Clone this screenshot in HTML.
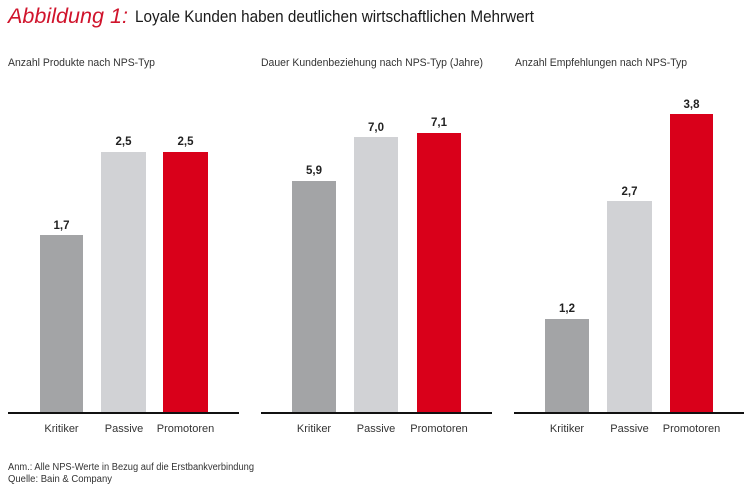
<!DOCTYPE html>
<html>
<head>
<meta charset="utf-8">
<style>
html,body{margin:0;padding:0;background:#fff;}
svg{display:block;}
text{font-family:"Liberation Sans",sans-serif;}
</style>
</head>
<body>
<svg width="750" height="489" viewBox="0 0 750 489" xmlns="http://www.w3.org/2000/svg">
<rect width="750" height="489" fill="#fff"/>
<!-- Title -->
<text x="8" y="23" font-family="Liberation Serif, serif" font-style="italic" font-size="21" fill="#d0142c" textLength="120" lengthAdjust="spacingAndGlyphs">Abbildung 1:</text>
<text x="135" y="22" font-size="16.5" fill="#1a1a1a" textLength="399" lengthAdjust="spacingAndGlyphs">Loyale Kunden haben deutlichen wirtschaftlichen Mehrwert</text>

<!-- Subtitles -->
<text x="8" y="66" font-size="11" fill="#333" textLength="147" lengthAdjust="spacingAndGlyphs">Anzahl Produkte nach NPS-Typ</text>
<text x="261" y="66" font-size="11" fill="#333" textLength="222" lengthAdjust="spacingAndGlyphs">Dauer Kundenbeziehung nach NPS-Typ (Jahre)</text>
<text x="515" y="66" font-size="11" fill="#333" textLength="172" lengthAdjust="spacingAndGlyphs">Anzahl Empfehlungen nach NPS-Typ</text>

<!-- Panel 1 -->
<rect x="40" y="235" width="43" height="178" fill="#a3a4a6"/>
<rect x="101" y="152" width="45" height="261" fill="#d1d2d5"/>
<rect x="163" y="152" width="45" height="261" fill="#d9001a"/>
<rect x="8" y="412" width="231" height="2" fill="#111"/>
<g font-size="11.5" font-weight="bold" fill="#222" text-anchor="middle">
<text x="61.5" y="229">1,7</text>
<text x="123.5" y="145">2,5</text>
<text x="185.5" y="145">2,5</text>
</g>
<g font-size="11" fill="#333" text-anchor="middle">
<text x="61.5" y="432">Kritiker</text>
<text x="124" y="432">Passive</text>
<text x="185.5" y="432">Promotoren</text>
</g>

<!-- Panel 2 -->
<rect x="292" y="181" width="44" height="232" fill="#a3a4a6"/>
<rect x="354" y="137" width="44" height="276" fill="#d1d2d5"/>
<rect x="417" y="133" width="44" height="280" fill="#d9001a"/>
<rect x="261" y="412" width="231" height="2" fill="#111"/>
<g font-size="11.5" font-weight="bold" fill="#222" text-anchor="middle">
<text x="314" y="174">5,9</text>
<text x="376" y="131">7,0</text>
<text x="439" y="126">7,1</text>
</g>
<g font-size="11" fill="#333" text-anchor="middle">
<text x="314" y="432">Kritiker</text>
<text x="376" y="432">Passive</text>
<text x="439" y="432">Promotoren</text>
</g>

<!-- Panel 3 -->
<rect x="545" y="319" width="44" height="94" fill="#a3a4a6"/>
<rect x="607" y="201" width="45" height="212" fill="#d1d2d5"/>
<rect x="670" y="114" width="43" height="299" fill="#d9001a"/>
<rect x="514" y="412" width="230" height="2" fill="#111"/>
<g font-size="11.5" font-weight="bold" fill="#222" text-anchor="middle">
<text x="567" y="312">1,2</text>
<text x="629.5" y="195">2,7</text>
<text x="691.5" y="108">3,8</text>
</g>
<g font-size="11" fill="#333" text-anchor="middle">
<text x="567" y="432">Kritiker</text>
<text x="629.5" y="432">Passive</text>
<text x="691.5" y="432">Promotoren</text>
</g>

<!-- Footer -->
<text x="8" y="470" font-size="10" fill="#333" textLength="246" lengthAdjust="spacingAndGlyphs">Anm.: Alle NPS-Werte in Bezug auf die Erstbankverbindung</text>
<text x="8" y="482" font-size="10" fill="#333" textLength="104" lengthAdjust="spacingAndGlyphs">Quelle: Bain &amp; Company</text>
</svg>
</body>
</html>
